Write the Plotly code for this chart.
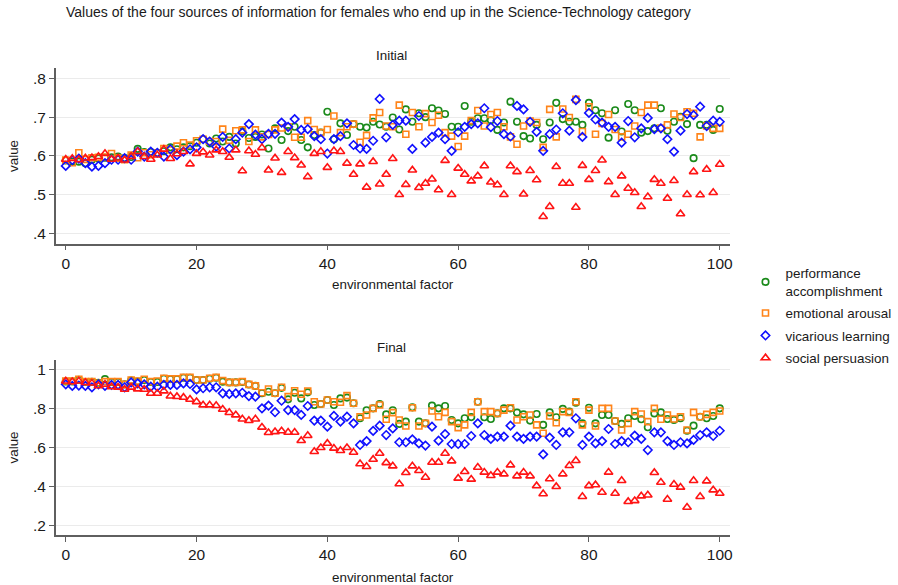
import plotly.graph_objects as go

x_vals = list(range(0, 101))

# ---------------- Initial panel ----------------
init_perf = [0.588,0.585,0.585,0.581,0.590,0.593,0.595,0.596,0.598,0.594,
             0.597,0.618,0.610,0.610,0.608,0.612,0.622,0.617,0.622,0.625,
             0.634,0.643,0.632,0.645,0.637,0.649,0.632,0.664,0.646,0.649,
             0.655,0.619,0.671,0.641,0.664,0.675,0.641,0.622,0.654,0.660,
             0.714,0.643,0.684,0.654,0.682,0.675,0.673,0.688,0.681,0.675,
             0.699,0.668,0.720,0.688,0.710,0.700,0.723,0.717,0.708,0.675,
             0.675,0.729,0.688,0.697,0.697,0.692,0.667,0.686,0.740,0.688,
             0.651,0.645,0.680,0.643,0.686,0.737,0.695,0.688,0.688,0.680,
             0.737,0.718,0.710,0.647,0.718,0.663,0.734,0.718,0.660,0.664,
             0.671,0.723,0.665,0.688,0.701,0.682,0.594,0.680,0.680,0.667,
             0.721]
init_emo = [0.589,0.582,0.608,0.591,0.595,0.596,0.597,0.606,0.594,0.590,
            0.602,0.595,0.608,0.603,0.608,0.619,0.615,0.625,0.634,0.628,
            0.639,0.643,0.637,0.637,0.669,0.640,0.665,0.667,0.637,0.667,
            0.649,0.655,0.667,0.672,0.675,0.648,0.648,0.691,0.668,0.660,
            0.668,0.703,0.660,0.675,0.682,0.635,0.653,0.698,0.712,0.677,
            0.675,0.731,0.656,0.712,0.675,0.709,0.686,0.705,0.660,0.651,
            0.624,0.651,0.691,0.717,0.677,0.707,0.712,0.675,0.649,0.630,
            0.677,0.690,0.686,0.622,0.720,0.649,0.721,0.699,0.746,0.663,
            0.727,0.656,0.684,0.707,0.668,0.649,0.656,0.677,0.712,0.731,
            0.731,0.672,0.680,0.708,0.699,0.714,0.710,0.649,0.677,0.671,
            0.671]
init_vic = [0.574,0.589,0.593,0.581,0.572,0.574,0.581,0.590,0.590,0.594,
            0.590,0.611,0.598,0.611,0.608,0.598,0.617,0.602,0.611,0.617,
            0.622,0.643,0.637,0.624,0.649,0.619,0.643,0.660,0.682,0.655,
            0.643,0.657,0.657,0.686,0.675,0.695,0.667,0.669,0.651,0.643,
            0.606,0.643,0.651,0.684,0.628,0.619,0.618,0.639,0.747,0.648,
            0.680,0.691,0.691,0.618,0.703,0.634,0.649,0.660,0.643,0.613,
            0.661,0.675,0.682,0.684,0.723,0.674,0.690,0.656,0.650,0.729,
            0.720,0.688,0.662,0.613,0.656,0.668,0.710,0.665,0.744,0.649,
            0.711,0.694,0.686,0.675,0.675,0.634,0.690,0.648,0.671,0.698,
            0.669,0.671,0.643,0.611,0.665,0.708,0.705,0.727,0.677,0.691,
            0.688]
init_soc = [0.591,0.593,0.590,0.594,0.595,0.598,0.606,0.591,0.594,0.589,
            0.598,0.611,0.598,0.591,0.602,0.617,0.593,0.605,0.611,0.579,
            0.606,0.610,0.602,0.615,0.611,0.596,0.615,0.561,0.613,0.604,
            0.621,0.563,0.594,0.557,0.611,0.595,0.576,0.546,0.606,0.611,
            0.570,0.613,0.611,0.581,0.552,0.579,0.519,0.585,0.527,0.552,
            0.593,0.500,0.526,0.563,0.518,0.529,0.540,0.512,0.588,0.500,
            0.568,0.552,0.535,0.548,0.574,0.532,0.525,0.500,0.574,0.559,
            0.501,0.562,0.538,0.443,0.469,0.572,0.529,0.529,0.467,0.575,
            0.539,0.562,0.589,0.533,0.500,0.548,0.516,0.505,0.469,0.494,
            0.539,0.529,0.490,0.536,0.450,0.500,0.559,0.499,0.565,0.505,
            0.578]

# ---------------- Final panel ----------------
fin_perf = [0.938,0.938,0.947,0.935,0.936,0.931,0.950,0.935,0.935,0.923,
            0.943,0.938,0.945,0.935,0.935,0.952,0.950,0.950,0.957,0.957,
            0.945,0.945,0.952,0.957,0.937,0.933,0.933,0.935,0.922,0.915,
            0.877,0.885,0.877,0.905,0.846,0.880,0.851,0.882,0.817,0.822,
            0.843,0.817,0.851,0.855,0.826,0.749,0.790,0.800,0.822,0.769,
            0.790,0.720,0.732,0.805,0.732,0.723,0.814,0.800,0.812,0.740,
            0.723,0.749,0.755,0.834,0.754,0.745,0.774,0.800,0.800,0.778,
            0.769,0.737,0.771,0.715,0.779,0.754,0.797,0.783,0.829,0.723,
            0.803,0.723,0.766,0.766,0.735,0.720,0.749,0.761,0.744,0.703,
            0.774,0.779,0.745,0.740,0.749,0.685,0.711,0.757,0.749,0.761,
            0.800]
fin_emo = [0.940,0.940,0.949,0.937,0.937,0.929,0.937,0.937,0.937,0.923,
           0.945,0.940,0.949,0.937,0.940,0.954,0.951,0.951,0.959,0.959,
           0.945,0.945,0.954,0.959,0.942,0.933,0.933,0.937,0.923,0.915,
           0.880,0.899,0.877,0.908,0.860,0.890,0.872,0.889,0.834,0.822,
           0.843,0.834,0.831,0.865,0.826,0.757,0.766,0.800,0.817,0.744,
           0.778,0.740,0.709,0.803,0.709,0.723,0.786,0.757,0.779,0.732,
           0.701,0.715,0.779,0.834,0.783,0.783,0.774,0.791,0.803,0.740,
           0.757,0.766,0.715,0.672,0.761,0.726,0.783,0.779,0.834,0.715,
           0.791,0.709,0.800,0.800,0.735,0.689,0.723,0.783,0.771,0.732,
           0.800,0.744,0.766,0.745,0.757,0.689,0.779,0.757,0.769,0.779,
           0.786]
fin_vic = [0.923,0.915,0.917,0.915,0.908,0.923,0.915,0.920,0.920,0.908,
           0.933,0.928,0.923,0.911,0.911,0.920,0.920,0.920,0.928,0.925,
           0.897,0.903,0.908,0.908,0.877,0.874,0.877,0.880,0.863,0.860,
           0.800,0.814,0.780,0.839,0.791,0.791,0.766,0.812,0.737,0.737,
           0.706,0.761,0.732,0.757,0.723,0.612,0.632,0.684,0.711,0.663,
           0.697,0.626,0.626,0.641,0.620,0.609,0.706,0.634,0.668,0.617,
           0.617,0.617,0.658,0.723,0.663,0.643,0.655,0.655,0.711,0.655,
           0.643,0.655,0.655,0.564,0.650,0.612,0.677,0.677,0.749,0.612,
           0.655,0.620,0.632,0.694,0.617,0.632,0.626,0.660,0.643,0.586,
           0.677,0.677,0.632,0.612,0.626,0.620,0.638,0.663,0.677,0.658,
           0.685]
fin_soc = [0.940,0.936,0.940,0.932,0.929,0.915,0.923,0.911,0.908,0.897,
           0.908,0.899,0.897,0.877,0.877,0.889,0.863,0.860,0.856,0.846,
           0.834,0.817,0.817,0.814,0.795,0.778,0.766,0.745,0.737,0.745,
           0.703,0.675,0.680,0.684,0.677,0.677,0.634,0.660,0.578,0.598,
           0.620,0.595,0.583,0.598,0.574,0.515,0.501,0.538,0.569,0.521,
           0.504,0.412,0.470,0.504,0.480,0.446,0.523,0.523,0.569,0.530,
           0.441,0.475,0.436,0.497,0.472,0.455,0.472,0.463,0.509,0.453,
           0.472,0.453,0.402,0.361,0.438,0.398,0.463,0.506,0.532,0.347,
           0.403,0.407,0.369,0.472,0.364,0.429,0.321,0.326,0.350,0.355,
           0.470,0.420,0.333,0.410,0.395,0.292,0.429,0.347,0.427,0.381,
           0.364]

series_names = ["performance<br>accomplishment", "emotional arousal",
                "vicarious learning", "social persuasion"]
x_ticks = [0, 20, 40, 60, 80, 100]
y_ticks_top = [0.4, 0.5, 0.6, 0.7, 0.8]
y_ticktext_top = [".4", ".5", ".6", ".7", ".8"]
y_ticks_bot = [0.2, 0.4, 0.6, 0.8, 1.0]
y_ticktext_bot = [".2", ".4", ".6", ".8", "1"]

colors = ["#1a8a1a", "#ff8419", "#1010ff", "#ff1414"]
symbols = ["circle-open", "square-open", "diamond-open", "triangle-up-open"]
sizes = [6.5, 6, 6.5, 7.5]

FONT = "Liberation Sans, Arial, sans-serif"
TXT = "#1a1a1a"
AX = "#5f5f5f"

fig = go.Figure()
top_data = [init_perf, init_emo, init_vic, init_soc]
bot_data = [fin_perf, fin_emo, fin_vic, fin_soc]
for k in range(4):
    fig.add_trace(go.Scatter(
        x=x_vals, y=top_data[k], mode="markers", name=series_names[k],
        legendgroup=f"g{k}", xaxis="x", yaxis="y",
        marker=dict(symbol=symbols[k], size=sizes[k], color=colors[k],
                    line=dict(width=1.6, color=colors[k])),
        cliponaxis=False))
for k in range(4):
    fig.add_trace(go.Scatter(
        x=x_vals, y=bot_data[k], mode="markers", name=series_names[k],
        legendgroup=f"g{k}", showlegend=False, xaxis="x2", yaxis="y2",
        marker=dict(symbol=symbols[k], size=sizes[k], color=colors[k],
                    line=dict(width=1.6, color=colors[k])),
        cliponaxis=False))

W, H = 898, 585
def px(x):
    return x / W
def py(y):
    return 1 - y / H

TICKF = dict(family=FONT, size=15.5, color=TXT)
common_x = dict(range=[-1.52, 101.5], tickvals=x_ticks, showgrid=False,
                zeroline=False, showline=True, linecolor=AX, linewidth=1.5,
                ticks="outside", ticklen=5, tickcolor=AX, tickwidth=1,
                tickfont=TICKF)
common_y = dict(showgrid=True, gridcolor="#ebebeb", gridwidth=1,
                zeroline=False, showline=True, linecolor=AX, linewidth=1.5,
                ticks="outside", ticklen=5, tickcolor=AX, tickwidth=1,
                tickfont=TICKF)

fig.update_layout(
    width=W, height=H,
    margin=dict(l=0, r=0, t=0, b=0),
    paper_bgcolor="white", plot_bgcolor="white",
    font=dict(family=FONT, color=TXT),
    xaxis=dict(domain=[px(56), px(732)], anchor="y", **common_x),
    yaxis=dict(domain=[py(243.7), py(68)], anchor="x", range=[0.373, 0.827],
               tickvals=y_ticks_top, ticktext=y_ticktext_top, **common_y),
    xaxis2=dict(domain=[px(56), px(732)], anchor="y2", **common_x),
    yaxis2=dict(domain=[py(535), py(360)], anchor="x2", range=[0.150, 1.048],
                tickvals=y_ticks_bot, ticktext=y_ticktext_bot, **common_y),
    legend=dict(x=px(748), y=py(258), xanchor="left", yanchor="top",
                font=dict(family=FONT, size=13.4, color=TXT),
                tracegroupgap=2, itemwidth=30, bgcolor="rgba(0,0,0,0)"),
    showlegend=True,
)

ann = [
    dict(text="Values of the four sources of information for females who end up in the Science-Technology category",
         x=px(64), y=py(12), xanchor="left", yanchor="middle", size=14),
    dict(text="Initial", x=px(393), y=py(55), xanchor="center", yanchor="middle", size=13.4),
    dict(text="Final", x=px(393), y=py(347), xanchor="center", yanchor="middle", size=13.4),
    dict(text="environmental factor", x=px(394), y=py(284), xanchor="center", yanchor="middle", size=13.4),
    dict(text="environmental factor", x=px(394), y=py(577), xanchor="center", yanchor="middle", size=13.4),
]
annotations = []
for a in ann:
    annotations.append(dict(text=a["text"], x=a["x"], y=a["y"], xref="paper", yref="paper",
                            xanchor=a["xanchor"], yanchor=a["yanchor"], showarrow=False,
                            font=dict(family=FONT, size=a["size"], color=TXT)))
for yc in [156, 447.5]:
    annotations.append(dict(text="value", x=px(14), y=py(yc), xref="paper", yref="paper",
                            xanchor="center", yanchor="middle", showarrow=False, textangle=-90,
                            font=dict(family=FONT, size=13.4, color=TXT)))
fig.update_layout(annotations=annotations)

# remove the default page margin so the figure fills the 898x585 window exactly
fig.write_html("out.html", config={"displayModeBar": False},
               post_script="document.body.style.margin='0px';")
